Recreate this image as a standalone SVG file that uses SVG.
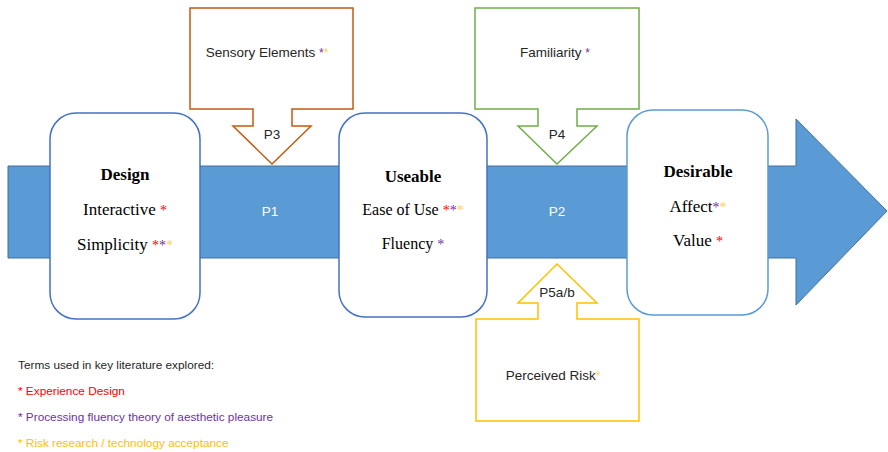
<svg xmlns="http://www.w3.org/2000/svg" width="888" height="452" viewBox="0 0 888 452">
<style>
.box{fill:#fff;stroke:#4472C4;stroke-width:1.5}
.serif{font-family:"Liberation Serif","Times New Roman",serif;font-size:17px;fill:#000;text-anchor:middle}
.b{font-weight:bold}
.sans{font-family:"Liberation Sans",Arial,sans-serif;font-size:13.5px;fill:#262626;text-anchor:middle}
.leg{font-family:"Liberation Sans",Arial,sans-serif;font-size:11.8px}
.r{fill:#FF0000}.p{fill:#7030A0}.y{fill:#FFD050}
.callout{fill:#fff;stroke-width:1.5}
</style>
<g id="flow-arrow">
<polygon points="8,166 796,166 796,119 887,211 796,305 796,258 8,258" fill="#5B9BD5" stroke="#41719C" stroke-width="1"/>
<text x="270" y="216" class="sans" style="fill:#fff">P1</text>
<text x="557" y="216" class="sans" style="fill:#fff">P2</text>
</g>
<g id="connectors">
<g id="sensory">
<path class="callout" stroke="#C55A11" d="M190,8 H353 V109 H292 V126 H311 L272,164 L233,126 H253 V109 H190 Z"/>
<text x="267" y="57" class="sans">Sensory Elements <tspan class="p" font-size="12">*</tspan><tspan class="y" font-size="12">*</tspan></text>
<text x="272" y="139" class="sans">P3</text>
</g>
<g id="familiarity">
<path class="callout" stroke="#70AD47" d="M475,8 H639 V109 H577 V126 H597 L557,164 L518,126 H538 V109 H475 Z"/>
<text x="555" y="57" class="sans">Familiarity  <tspan class="p" font-size="12">*</tspan></text>
<text x="557" y="139" class="sans">P4</text>
</g>
<g id="perceived-risk">
<path class="callout" stroke="#FFC000" d="M476,319 H538 V303 H518 L557,264 L597,303 H577 V319 H639 V421 H476 Z"/>
<text x="557" y="297" class="sans">P5a/b</text>
<text x="553" y="380" class="sans">Perceived Risk<tspan class="y" font-size="12">*</tspan></text>
</g>
</g>
<g id="design">
<rect class="box" x="50" y="113" width="150" height="206" rx="26"/>
<text x="125" y="180" class="serif b">Design</text>
<text x="125" y="215" class="serif">Interactive <tspan class="r" font-size="14">*</tspan></text>
<text x="125" y="250" class="serif">Simplicity <tspan class="r" font-size="14">*</tspan><tspan class="p" font-size="14">*</tspan><tspan class="y" font-size="14">*</tspan></text>
</g>
<g id="useable">
<rect class="box" x="339" y="113" width="148" height="204" rx="26"/>
<text x="413" y="182" class="serif b">Useable</text>
<text x="413" y="215" class="serif" style="font-size:16px">Ease of Use <tspan class="r" font-size="14">*</tspan><tspan class="p" font-size="14">*</tspan><tspan class="y" font-size="14">*</tspan></text>
<text x="413" y="249" class="serif" style="font-size:16px">Fluency <tspan class="p" font-size="14">*</tspan></text>
</g>
<g id="desirable">
<rect class="box" x="627" y="110" width="141" height="205" rx="26" style="stroke:#5B9BD5"/>
<text x="698" y="177" class="serif b">Desirable</text>
<text x="698" y="212" class="serif">Affect<tspan class="p" font-size="14">*</tspan><tspan class="y" font-size="14">*</tspan></text>
<text x="698" y="246" class="serif">Value <tspan class="r" font-size="14">*</tspan></text>
</g>
<g id="legend">
<text x="18" y="369" class="leg" fill="#262626">Terms used in key literature explored:</text>
<text x="18" y="395" class="leg" fill="#FF0000">* Experience Design</text>
<text x="18" y="421" class="leg" fill="#7030A0">* Processing fluency theory of aesthetic pleasure</text>
<text x="18" y="447" class="leg" fill="#FFC000">* Risk research / technology acceptance</text>
</g>
</svg>
